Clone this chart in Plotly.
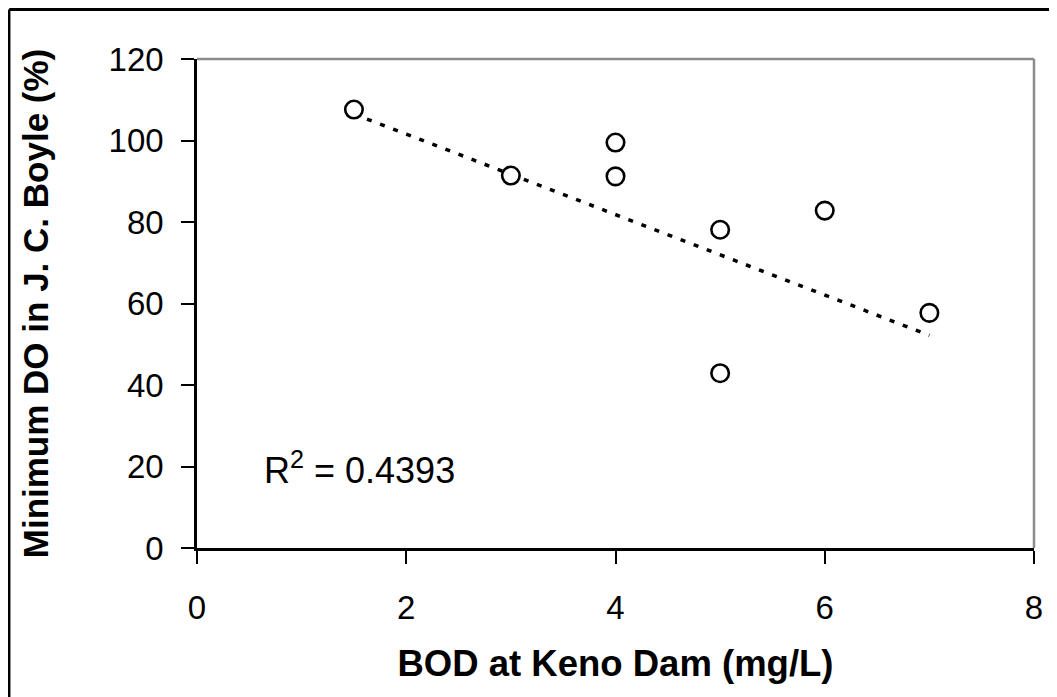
import plotly.graph_objects as go

# Data
bod = [1.5, 3, 4, 4, 5, 5, 6, 7]
min_do = [107.6, 91.4, 99.5, 91.2, 78.1, 42.9, 82.8, 57.7]

# Linear trendline endpoints as drawn in the reference
trend_x = [1.5, 7]
trend_y = [106.5, 52.2]

r2_label = "R<sup>2</sup> = 0.4393"
x_ticks = [0, 2, 4, 6, 8]
y_ticks = [0, 20, 40, 60, 80, 100, 120]

FONT = "Liberation Sans, Arial, sans-serif"

# figure is placed 8px from the page corner by the body margin
W, H = 1049, 689
ML, MR, MT, MB = 189, 23, 51, 149
PW = W - ML - MR
PH = H - MT - MB

fig = go.Figure()
fig.add_trace(go.Scatter(
    x=trend_x, y=trend_y, mode="lines",
    line=dict(color="black", width=3.5, dash="5px,9px"),
    hoverinfo="skip", showlegend=False,
))
fig.add_trace(go.Scatter(
    x=bod, y=min_do, mode="markers",
    marker=dict(symbol="circle", size=17.5, color="white",
                line=dict(color="black", width=2.6)),
    showlegend=False,
))

frame_x = (1.2 - ML) / PW
frame_y = 1 + (MT - 1.5) / PH

fig.update_layout(
    width=W, height=H,
    margin=dict(l=ML, r=MR, t=MT, b=MB),
    paper_bgcolor="white", plot_bgcolor="white",
    font=dict(family=FONT, color="black", size=33),
    xaxis=dict(
        range=[0, 8], tickvals=x_ticks, showgrid=False, zeroline=False,
        showline=True, linecolor="black", linewidth=2.5,
        ticks="outside", ticklen=13, tickwidth=2, tickcolor="black",
        ticklabelstandoff=16,
        tickfont=dict(size=33),
        title=dict(text="<b>BOD at Keno Dam (mg/L)</b>",
                   font=dict(size=36.5), standoff=26),
    ),
    yaxis=dict(
        range=[0, 120], tickvals=y_ticks, showgrid=False, zeroline=False,
        showline=True, linecolor="black", linewidth=2.5,
        ticks="outside", ticklen=13, tickwidth=2, tickcolor="black",
        ticklabelstandoff=11,
        tickfont=dict(size=33),
        title=dict(text="<b>Minimum DO in J. C. Boyle (%)</b>",
                   font=dict(size=35), standoff=50),
    ),
    shapes=[
        # gray top and right borders of the plot area
        dict(type="line", xref="paper", yref="paper", x0=0, x1=1, y0=1, y1=1,
             line=dict(color="#8c8c8c", width=2.5)),
        dict(type="line", xref="paper", yref="paper", x0=1, x1=1, y0=0, y1=1,
             line=dict(color="#8c8c8c", width=2.5)),
        # outer chart frame (left & top visible)
        dict(type="line", xref="paper", yref="paper",
             x0=frame_x, x1=1.3, y0=frame_y, y1=frame_y,
             line=dict(color="black", width=3)),
        dict(type="line", xref="paper", yref="paper",
             x0=frame_x, x1=frame_x, y0=-0.5, y1=frame_y,
             line=dict(color="black", width=2.5)),
    ],
    annotations=[
        dict(text=r2_label, xref="paper", yref="paper",
             x=(262 - 197) / PW, y=(548 - 468) / PH,
             xanchor="left", yanchor="middle", showarrow=False,
             font=dict(size=36, family=FONT, color="black")),
    ],
)

fig.write_html("out.html")
